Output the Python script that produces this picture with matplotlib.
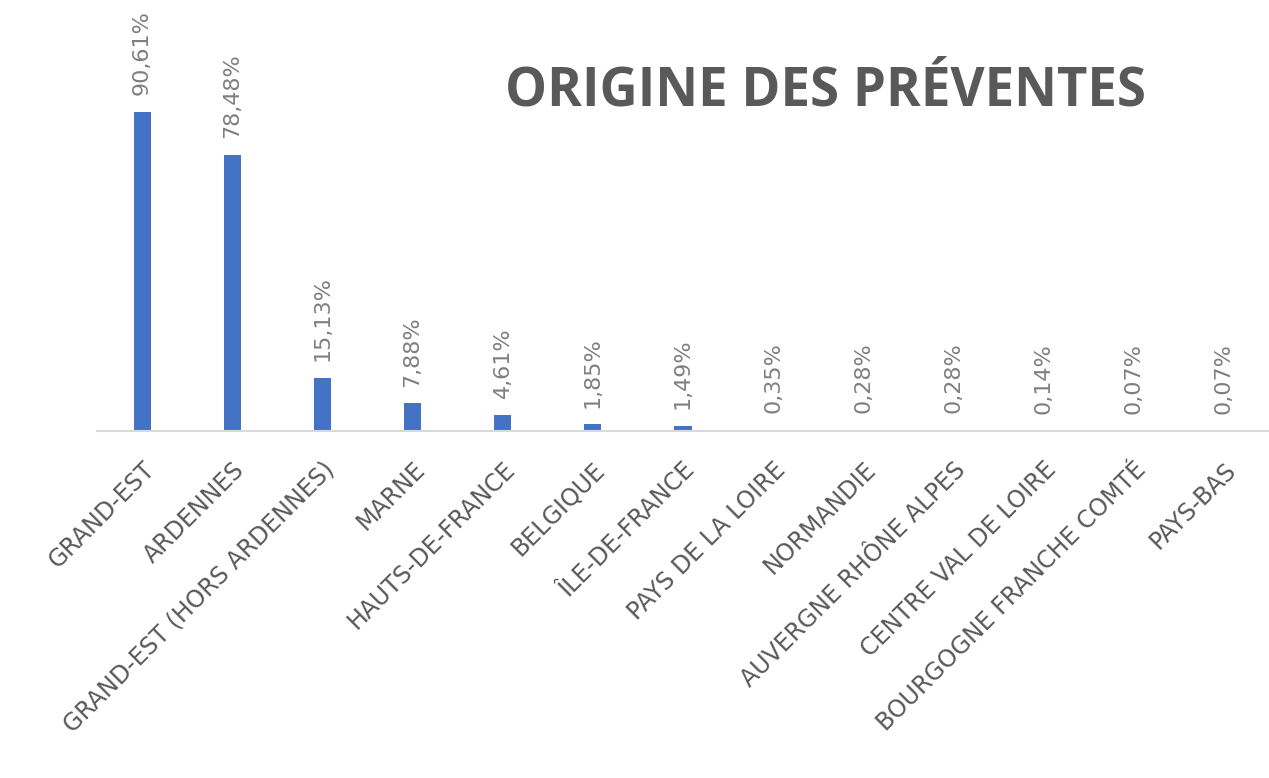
import matplotlib
matplotlib.use("Agg")
import matplotlib.pyplot as plt

categories = ["GRAND-EST", "ARDENNES", "GRAND-EST (HORS ARDENNES)", "MARNE",
              "HAUTS-DE-FRANCE", "BELGIQUE", "ÎLE-DE-FRANCE", "PAYS DE LA LOIRE",
              "NORMANDIE", "AUVERGNE RHÔNE ALPES", "CENTRE VAL DE LOIRE",
              "BOURGOGNE FRANCHE COMTÉ", "PAYS-BAS"]
values = [90.61, 78.48, 15.13, 7.88, 4.61, 1.85, 1.49, 0.35, 0.28, 0.28, 0.14, 0.07, 0.07]
title = "ORIGINE DES PRÉVENTES"

W, H = 1269, 778
fig = plt.figure(figsize=(W / 100, H / 100), dpi=100)
ax = fig.add_axes([97 / W, (H - 431) / H, 1172 / W, 431 / H])

x = list(range(len(categories)))
ax.bar(x, values, width=0.19, color="#4472C4", zorder=2)
ax.set_xlim(-0.5, len(categories) - 0.5)
ax.set_ylim(0, 122.4)

for s in ["top", "right", "left"]:
    ax.spines[s].set_visible(False)
ax.spines["bottom"].set_color("#D9D9D9")
ax.spines["bottom"].set_linewidth(1.5)
ax.set_yticks([])
ax.tick_params(axis="x", length=0, pad=19)
ax.set_xticks(x)
ax.set_xticklabels(categories, rotation=45, ha="right", va="top",
                   rotation_mode="anchor", fontsize=17, color="#595959",
                   family=["DejaVu Sans"])

for xi, v in zip(x, values):
    lbl = f"{v:.2f}".replace(".", ",") + "%"
    ax.annotate(lbl, (xi, v), xytext=(0, 12), textcoords="offset points",
                rotation=90, ha="center", va="bottom", fontsize=16,
                color="#7F7F7F", family=["DejaVu Sans"])

fig.text(825 / W, 1 - 91 / H, title, ha="center", va="center", fontsize=38,
         fontweight="bold", color="#595959", family=["Open Sans", "DejaVu Sans"])

fig.savefig("out.png", dpi=100)
